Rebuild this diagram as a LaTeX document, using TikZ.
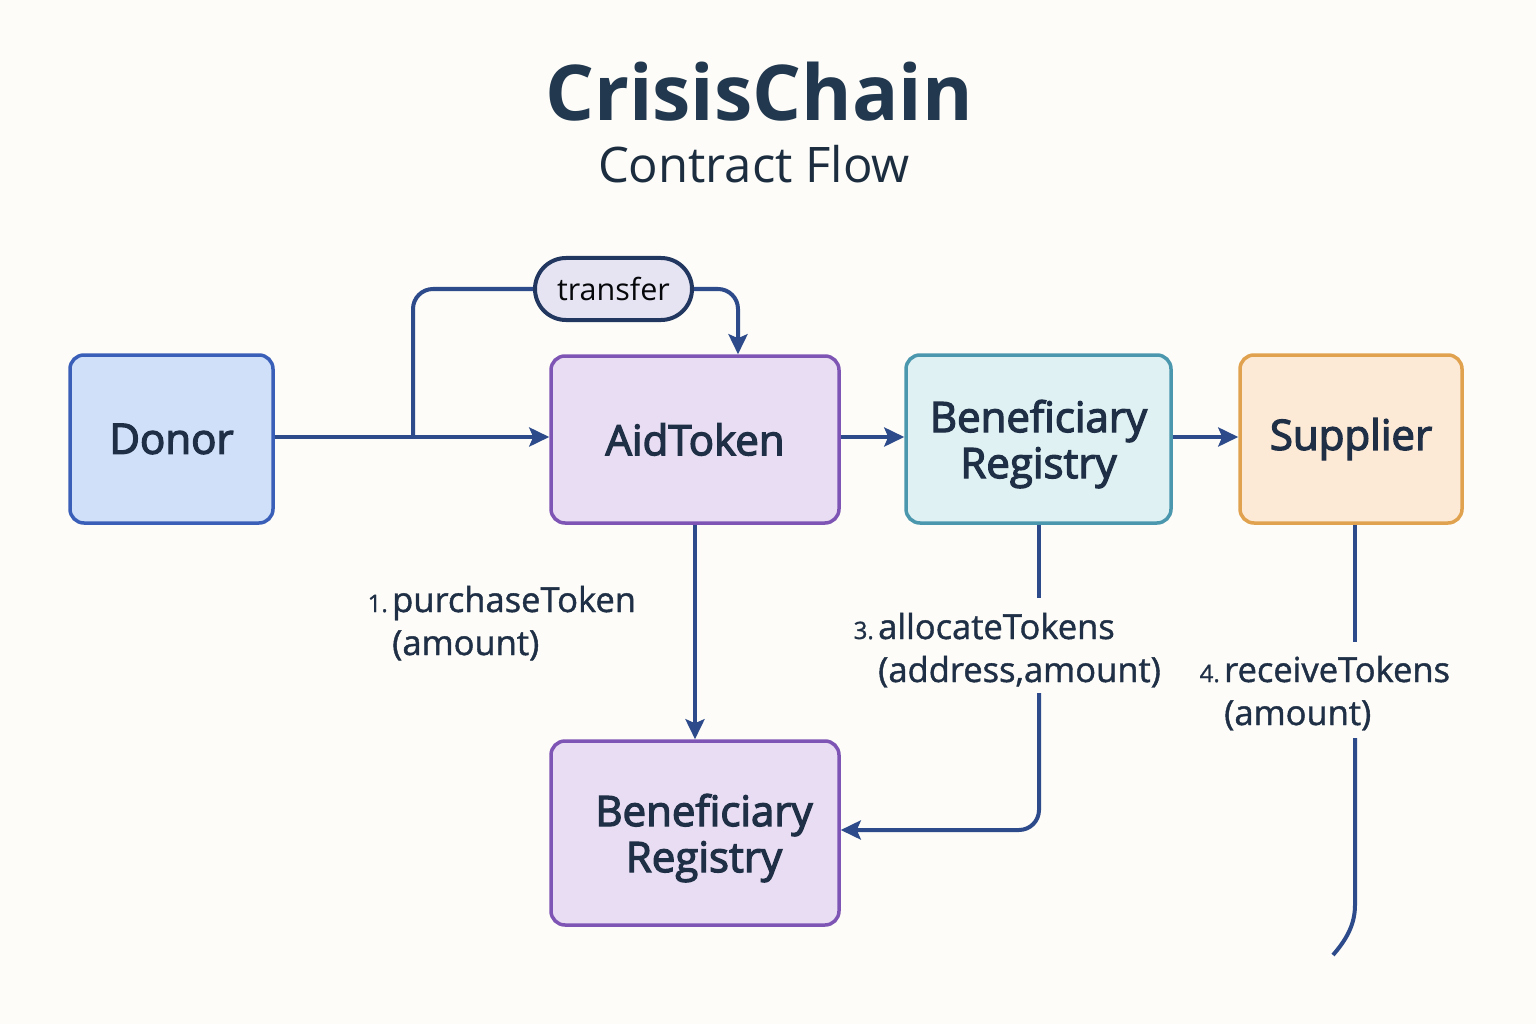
\documentclass[tikz,border=0pt]{standalone}
\usepackage{fontspec}
\setmainfont{Open Sans}
\newfontfamily\medfont[FakeBold=3]{Open Sans}
\newfontfamily\lblfont[FakeBold=1.2]{Open Sans}
\usetikzlibrary{arrows.meta,calc}
\definecolor{bg}{HTML}{FDFCF8}
\definecolor{ln}{HTML}{2D4A8A}
\definecolor{txt}{HTML}{1F2F45}
\definecolor{ttl}{HTML}{22384F}
\definecolor{donorF}{HTML}{CFE0F8}
\definecolor{donorD}{HTML}{3A5FB8}
\definecolor{aidF}{HTML}{E8DDF2}
\definecolor{aidD}{HTML}{7E55B5}
\definecolor{brF}{HTML}{DFF1F2}
\definecolor{brD}{HTML}{4A97AE}
\definecolor{supF}{HTML}{FCEAD7}
\definecolor{supD}{HTML}{E0A24F}
\definecolor{pillF}{HTML}{E6E4F2}
\definecolor{pillD}{HTML}{22375F}
\tikzset{
  box/.style={draw, line width=3.5pt, rounded corners=14pt, align=center, text=txt,
    font=\fontsize{42}{46}\medfont},
  conn/.style={draw=ln, line width=4pt},
  arr/.style={conn, -{Stealth[length=20pt,width=19pt,inset=4pt]}},
  lbl/.style={text=txt, inner sep=0pt, font=\fontsize{34.5}{40}\lblfont},
  num/.style={text=txt, inner sep=0pt, font=\fontsize{24}{28}\lblfont},
}
\begin{document}
\begin{tikzpicture}[x=1pt,y=-1pt]
\useasboundingbox[fill=bg] (0,0) rectangle (1536,1024);
% title
\node[text=ttl, font=\fontsize{77}{90}\selectfont\bfseries] (title) at (759,92) {CrisisChain};
\node[text=ttl!80!black, font=\fontsize{49}{56}\selectfont] (sub) at (754,164) {Contract Flow};
% nodes
\node[box, fill=donorF, draw=donorD, minimum width=203pt, minimum height=168pt] (donor) at (171.5,439) {Donor};
\node[box, fill=aidF, draw=aidD, minimum width=288pt, minimum height=167pt] (aid) at (695,439.5) {AidToken};
\node[box, fill=brF, draw=brD, minimum width=265pt, minimum height=168pt, text depth=0pt] (br) at (1038.5,439) {Beneficiary\\Registry};
\node[box, fill=supF, draw=supD, minimum width=222pt, minimum height=168pt] (sup) at (1351,439) {Supplier};
\node[box, fill=aidF, draw=aidD, minimum width=288pt, minimum height=184pt, text depth=0pt] (bb) at (695,833) {\hspace*{18pt}Beneficiary\\\hspace*{18pt}Registry};
\node[draw=pillD, fill=pillF, line width=4pt, rounded corners=31pt, minimum width=157pt, minimum height=62pt,
  text=black!85!txt, font=\fontsize{30.5}{36}\selectfont] (tr) at (613.5,289) {transfer};
% connectors
\coordinate (j) at (413,437);
\draw[arr] (donor.east |- j) -- (aid.west |- j);
\draw[conn, rounded corners=20pt] (j) |- (tr.west);
\draw[arr, rounded corners=20pt] (tr.east) -| ($(aid.north)+(43,0)$);
\draw[arr] (aid.east |- j) -- (br.west |- j);
\draw[arr] (br.east |- j) -- (sup.west |- j);
\draw[arr] (aid.south) -- (bb.north);
% allocate
\coordinate (a1) at (1039,598);
\coordinate (a2) at (1039,693);
\draw[conn] (br.south -| a1) -- (a1);
\draw[arr, rounded corners=20pt] (a2) |- ($(bb.east)+(0,-3)$);
% receive
\coordinate (r1) at (1355,642);
\coordinate (r2) at (1355,738);
\coordinate (rend) at (1333,955);
\draw[conn] (sup.south -| r1) -- (r1);
\draw[conn] (r2) -- (1355,905) .. controls (1355,925) and (1346,940) .. (rend);
% labels
\node[lbl, anchor=base west] (l1) at (392,612) {purchaseToken};
\node[lbl, anchor=base west] (l1b) at (392,655) {(amount)};
\node[num, anchor=base east] (n1) at ($(l1.base west)+(-4,0)$) {1.};
\node[lbl, anchor=base west] (l3) at (878,639) {allocateTokens};
\node[lbl, anchor=base west] (l3b) at (878,682) {(address,amount)};
\node[num, anchor=base east] (n3) at ($(l3.base west)+(-4,0)$) {3.};
\node[lbl, anchor=base west] (l4) at (1224,682) {receiveTokens};
\node[lbl, anchor=base west] (l4b) at (1224,725) {(amount)};
\node[num, anchor=base east] (n4) at ($(l4.base west)+(-4,0)$) {4.};
\end{tikzpicture}
\end{document}
